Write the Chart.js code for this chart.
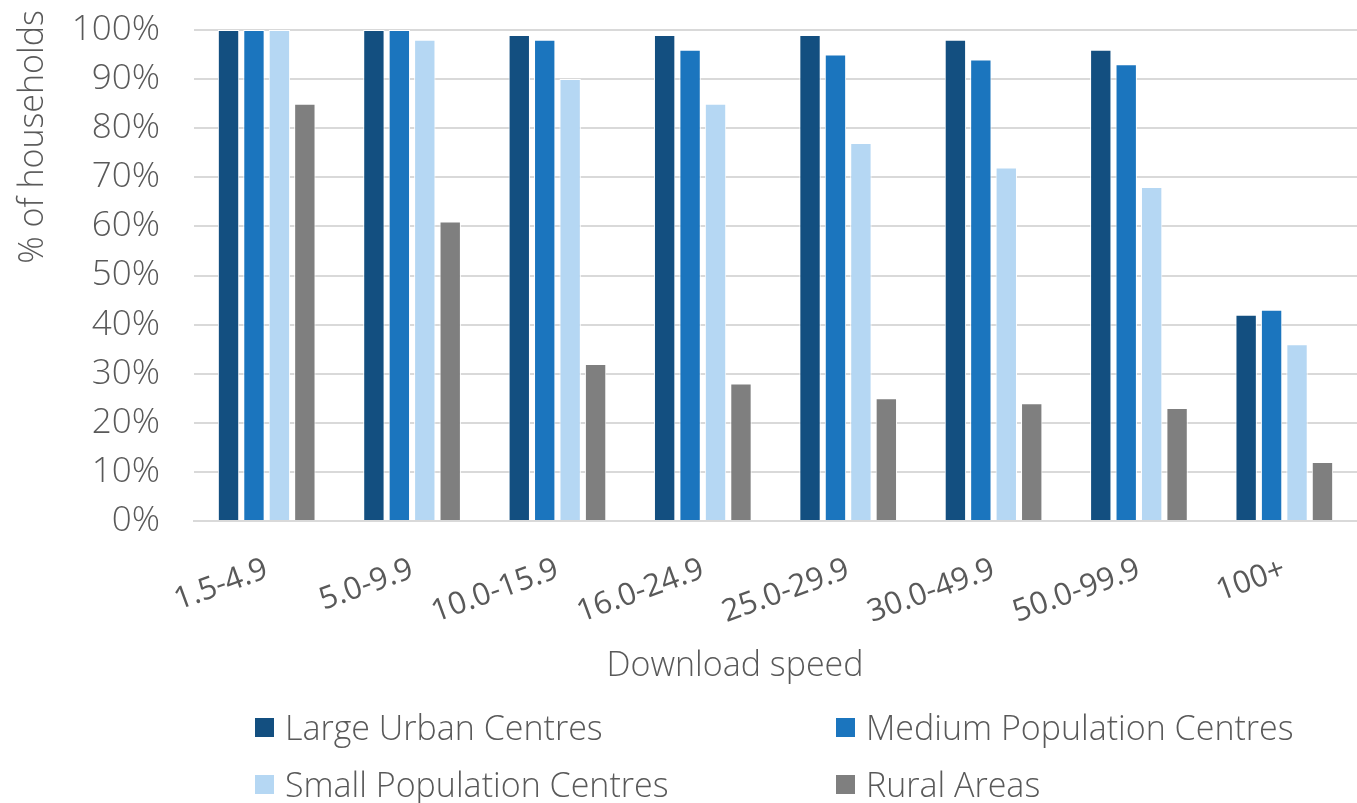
<!DOCTYPE html>
<html>
<head>
<meta charset="utf-8">
<script src="https://cdn.jsdelivr.net/npm/chart.js@4/dist/chart.umd.min.js"></script>
<style>
    body { margin: 0; background: #fff; overflow: hidden; }
    #wrap { position: relative; width: 1357px; height: 803px; overflow: hidden; }
    #chart { position: absolute; left: 0; top: -25px; }
    .axis-title {
        position: absolute; text-align: center; line-height: 44px;
        font-family: "Open Sans", sans-serif; font-weight: 300; font-size: 34px; color: #595959;
    }
    #xtitle { left: 535px; width: 400px; top: 641px; }
    #ytitle { left: -120px; width: 300px; top: 115px; transform: rotate(-90deg); }
    #legend {
        position: absolute; left: 255px; top: 706px;
        display: grid; grid-template-columns: 581px 520px; row-gap: 15px;
        font-family: "Open Sans", sans-serif; font-weight: 300; font-size: 34px; color: #595959;
    }
    .item { display: flex; align-items: center; height: 42px; }
    .box { width: 19px; height: 19px; margin-right: 11px; }
</style>
</head>
<body>
<div id="wrap">
    <canvas id="chart" width="1357" height="828"></canvas>
    <div id="ytitle" class="axis-title">% of households</div>
    <div id="xtitle" class="axis-title">Download speed</div>
    <div id="legend"></div>
</div>
<script>
    // Data
    const categories = ['1.5-4.9', '5.0-9.9', '10.0-15.9', '16.0-24.9', '25.0-29.9', '30.0-49.9', '50.0-99.9', '100+'];
    const seriesNames = ['Large Urban Centres', 'Medium Population Centres', 'Small Population Centres', 'Rural Areas'];
    const largeUrban = [100, 100, 99, 99, 99, 98, 96, 42];
    const mediumPop = [100, 100, 98, 96, 95, 94, 93, 43];
    const smallPop = [100, 98, 90, 85, 77, 72, 68, 36];
    const rural = [85, 61, 32, 28, 25, 24, 23, 12];
    const colors = ['#134f80', '#1b75be', '#b5d7f3', '#7f7f7f'];

    const textColor = '#595959';
    const gridColor = '#d9d9d9';

    const datasets = [largeUrban, mediumPop, smallPop, rural].map((values, i) => ({
        label: seriesNames[i],
        data: values,
        backgroundColor: colors[i],
        borderColor: '#ffffff',
        borderWidth: 1,
        categoryPercentage: 0.7,
        barPercentage: 0.84
    }));

    new Chart(document.getElementById('chart'), {
        type: 'bar',
        data: { labels: categories, datasets: datasets },
        options: {
            responsive: false,
            animation: false,
            layout: { padding: { top: 0, right: 0, bottom: 116, left: 0 } },
            plugins: {
                legend: { display: false },
                tooltip: { enabled: false }
            },
            scales: {
                x: {
                    afterFit: scale => { scale.height = 166; },
                    grid: { display: false },
                    border: { color: gridColor, width: 2 },
                    ticks: {
                        color: textColor,
                        padding: 22,
                        minRotation: 20,
                        maxRotation: 20,
                        font: { family: '"Open Sans", sans-serif', size: 31 }
                    }
                },
                y: {
                    afterFit: scale => { scale.width = 194; },
                    min: 0,
                    max: 100,
                    grid: { color: gridColor, lineWidth: 2, drawTicks: false },
                    border: { display: false },
                    ticks: {
                        stepSize: 10,
                        padding: 34,
                        color: textColor,
                        font: { family: '"Open Sans", sans-serif', weight: 300, size: 35 },
                        callback: v => v + '%'
                    }
                }
            }
        }
    });

    // HTML legend in two columns
    const legend = document.getElementById('legend');
    seriesNames.forEach((name, i) => {
        const item = document.createElement('div');
        item.className = 'item';
        item.innerHTML = `<span class="box" style="background:${colors[i]}"></span>${name}`;
        legend.appendChild(item);
    });
</script>
</body>
</html>
